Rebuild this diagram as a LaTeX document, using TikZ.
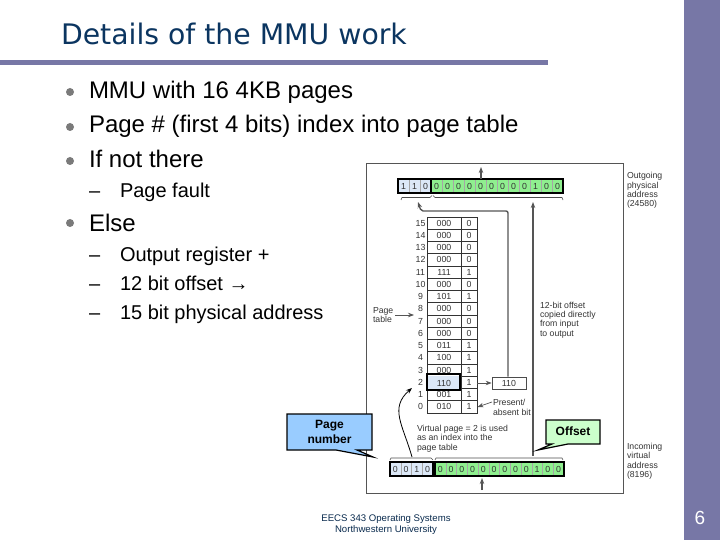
\documentclass[tikz,border=0pt]{standalone}
\usepackage{fontspec}
\setmainfont{Liberation Sans}
\newfontfamily\titlefont{DejaVu Sans}
\usetikzlibrary{arrows.meta}
\definecolor{band}{HTML}{7777A6}
\definecolor{titleblue}{HTML}{0B3560}
\definecolor{regblue}{HTML}{DCE8F7}
\definecolor{reggreen}{HTML}{8FEF8F}
\definecolor{callblue}{HTML}{99CCFF}
\definecolor{callgreen}{HTML}{CCFFCC}
\definecolor{figline}{HTML}{555555}
\tikzset{
  x=1pt,y=-1pt,
  txt/.style={anchor=base west,inner sep=0pt,outer sep=0pt},
  body/.style={txt,font=\fontsize{24}{24}\selectfont,text=black},
  sub/.style={txt,font=\fontsize{20}{20}\selectfont,text=black},
  dot/.style={circle,fill=black!52,draw=none,minimum size=8pt,inner sep=0pt},
  fig/.style={txt,font=\fontsize{8.7}{8.7}\selectfont,text=black!80},
  cellt/.style={anchor=center,inner sep=0pt,font=\fontsize{8.8}{8.8}\selectfont,text=black!80},
  regbox/.style={draw=black,line width=2pt},
  sep/.style={draw=black!35,line width=.5pt},
  flow/.style={draw=figline,line width=1.4pt,-{Stealth[length=6pt,width=4.5pt]}},
  thinline/.style={draw=black!70,line width=.6pt},
}
\begin{document}
\begin{tikzpicture}
\useasboundingbox (0,0) rectangle (720,540);
\fill[band] (684,0) rectangle (720,540);
\fill[band] (0,60) rectangle (548,65.5);
\node[txt,font=\titlefont\fontsize{28.3}{28.3}\selectfont,text=titleblue] (title) at (61,45) {Details of the MMU work};
\node[dot] (b1) at (70,92) {}; \node[dot] (b2) at (70,127) {}; \node[dot] (b3) at (70,161) {}; \node[dot] (b4) at (70,223) {};
\node[body] (l1) at (89,99) {MMU with 16 4KB pages};
\node[body] (l2) at (89,133) {Page \# (first 4 bits) index into page table};
\node[body] (l3) at (89,168) {If not there};
\node[sub] (d1) at (89,198) {–}; \node[sub] (s1) at (120,198) {Page fault};
\node[body] (l4) at (89,231) {Else};
\node[sub] (d2) at (89,261) {–}; \node[sub] (s2) at (120,261) {Output register +};
\node[sub] (d3) at (89,290) {–}; \node[sub] (s3) at (120,290) {12 bit offset →};
\node[sub] (d4) at (89,319) {–}; \node[sub] (s4) at (120,319) {15 bit physical address};
% figure frame
\draw[figline,line width=1pt] (366,164) rectangle (623,493);
% outgoing register
\fill[regblue] (398,179) rectangle (431,193);
\fill[reggreen] (431,179) rectangle (563,193);
\foreach \i in {1,...,14} \draw[sep] ({398+11*\i},179) -- ({398+11*\i},193);
\foreach \b [count=\i from 0] in {1,1,0,0,0,0,0,0,0,0,0,0,1,0,0}
  \node[cellt] (top\i) at ({403.5+11*\i},186.3) {\b};
\draw[regbox] (398,179) rectangle (563,193);
\draw[regbox] (431,179) -- (431,193);
% table
\foreach \n/\p/\v [count=\i from 0] in {15/000/0,14/000/0,13/000/0,12/000/0,11/111/1,10/000/0,9/101/1,8/000/0,7/000/0,6/000/0,5/011/1,4/100/1,3/000/1,2/110/1,1/001/1,0/010/1}{
  \draw[draw=black!80,line width=.8pt] (427,{217+12.25*\i}) rectangle (477,{217+12.25*(\i+1)});
  \node[cellt] (num\n) at (420.5,{223.1+12.25*\i}) {\n};
  \node[cellt] (pg\n) at (444,{223.1+12.25*\i}) {\p};
  \node[cellt] (bit\n) at (469,{223.1+12.25*\i}) {\v};
}
\draw[draw=black!80,line width=.8pt] (461,217) -- (461,413);
\fill[regblue] (427,376) rectangle (460,390);
\node[cellt] at (444,383) {110};
\draw[regbox] (426.5,374) rectangle (460,390);
% incoming register
\fill[regblue] (390,462) rectangle (433,476);
\fill[reggreen] (435,462) rectangle (564,476);
\foreach \i in {1,2,3} \draw[sep] ({390+10.75*\i},462) -- ({390+10.75*\i},476);
\foreach \i in {1,...,11} \draw[sep] ({435+10.75*\i},462) -- ({435+10.75*\i},476);
\foreach \b [count=\i from 0] in {0,0,1,0}
  \node[cellt] (inp\i) at ({395.4+10.75*\i},469.3) {\b};
\foreach \b [count=\i from 0] in {0,0,0,0,0,0,0,0,0,1,0,0}
  \node[cellt] (ino\i) at ({440.4+10.75*\i},469.3) {\b};
\draw[regbox] (390,462) rectangle (433,476);
\draw[regbox] (435,462) rectangle (564,476);
% brackets
\draw[thinline] (401,200) -- (402,197.5) -- (430,197.5) -- (432,195.5);
\draw[thinline] (433,195.5) -- (435,197.5) -- (562,197.5) -- (563,200);
\draw[thinline] (390,460) -- (391,458) -- (431,458) -- (433,460);
\draw[thinline] (435,460) -- (436,458) -- (562,458) -- (563,460);
% 110 output box
\node[draw=black!70,line width=.7pt,minimum width=34pt,minimum height=12pt,inner sep=0pt,font=\fontsize{8.8}{8.8}\selectfont,text=black!80] (out) at (509,383) {110};
\coordinate (topin) at (481,179);
\coordinate (topout) at (481,167);
\coordinate (inA) at (482,490);
\coordinate (inB) at (482,478);
\coordinate (offA) at (533,456);
\coordinate (offB) at (533,202);
\coordinate (frameA) at (418,202);
\coordinate (corner) at (508,211);
\coordinate (ptA) at (395,315);
\coordinate (ptB) at (414,315);
\coordinate (bitR) at (477,383);
\coordinate (bit0) at (477.5,407);
\coordinate (presentL) at (492,402);
\coordinate (vpA) at (412,457);
\coordinate (vpB) at (412,388);
\draw[flow] (topin) -- (topout);
\draw[flow] (inA) -- (inB);
\draw[flow] (offA) -- (offB);
\draw[flow,rounded corners=2pt] (out.north -| corner) -- (corner) -- (421,211) -- (frameA);
\draw[flow,line width=.8pt] (ptA) -- (ptB);
\draw[flow,line width=.8pt] (bitR) -- (out.west);
\draw[flow,line width=.7pt] (presentL) -- (bit0);
\draw[flow,line width=.8pt,draw=black] (vpA) .. controls (403,425) and (389,408) .. (vpB);
% figure texts
\node[fig] (outl1) at (627,179) {Outgoing};
\node[fig] (outl2) at (627,188.5) {physical};
\node[fig] (outl3) at (627,198) {address};
\node[fig] (outl4) at (627,207) {(24580)};
\node[fig] (inl1) at (627,449) {Incoming};
\node[fig] (inl2) at (627,458.5) {virtual};
\node[fig] (inl3) at (627,468) {address};
\node[fig] (inl4) at (627,477.5) {(8196)};
\node[fig] (pt1) at (373,313) {Page};
\node[fig] (pt2) at (373,322.5) {table};
\node[fig] (cp1) at (540,308) {12-bit offset};
\node[fig] (cp2) at (540,317) {copied directly};
\node[fig] (cp3) at (540,326.5) {from input};
\node[fig] (cp4) at (540,336) {to output};
\node[fig] (pr1) at (493,405) {Present/};
\node[fig] (pr2) at (493,415) {absent bit};
\node[fig] (vp1) at (417,431) {Virtual page = 2 is used};
\node[fig] (vp2) at (417,440.5) {as an index into the};
\node[fig] (vp3) at (417,450) {page table};
% callouts
\filldraw[fill=callblue,draw=black,line width=1.2pt] (287,414) -- (372,414) -- (372,450) -- (357,450) -- (373,457) -- (336,450) -- (287,450) -- cycle;
\node[inner sep=0pt,align=center,font=\bfseries\fontsize{12}{15}\selectfont] (pn) at (329.5,431.5) {Page\\number};
\filldraw[fill=callgreen,draw=black,line width=1.2pt] (546,420) -- (600,420) -- (600,444) -- (568,444) -- (538,450) -- (552,444) -- (546,444) -- cycle;
\node[inner sep=0pt,font=\bfseries\fontsize{12}{12}\selectfont] (of) at (573,431) {Offset};
% footer
\node[inner sep=0pt,font=\fontsize{9.6}{9.6}\selectfont,text=titleblue!80!black] (f1) at (386,519) {EECS 343 Operating Systems};
\node[inner sep=0pt,font=\fontsize{9.6}{9.6}\selectfont,text=titleblue!80!black] (f2) at (386,530) {Northwestern University};
\node[inner sep=0pt,font=\fontsize{19}{19}\selectfont,text=white] (num) at (700,518) {6};
\end{tikzpicture}
\end{document}
